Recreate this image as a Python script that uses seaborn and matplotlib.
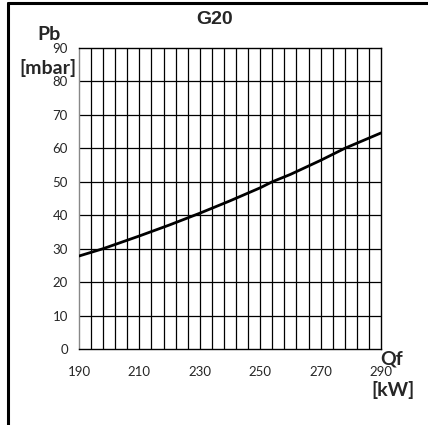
import numpy as np
import pandas as pd
import matplotlib
matplotlib.use("Agg")
import matplotlib.pyplot as plt
from matplotlib.lines import Line2D
import seaborn as sns

# Data
qf_kw = [190, 198, 210, 220, 230, 240, 250, 254, 260, 270, 278, 290]
pb_mbar = [27.8, 30.0, 33.8, 37.1, 40.6, 44.3, 48.2, 50.0, 52.2, 56.4, 60.0, 64.6]
x_ticks = [190, 210, 230, 250, 270, 290]
y_ticks = [0, 10, 20, 30, 40, 50, 60, 70, 80, 90]
title = "G20"
y_label = ["Pb", "[mbar]"]
x_label = ["Qf", "[kW]"]

sns.set_style("white")
plt.rcParams['font.family'] = ['Lato', 'DejaVu Sans']

fig = plt.figure(figsize=(4.28, 4.25), dpi=100)
ax = fig.add_axes([79/428, 1-349/425, (381-79)/428, (349-48)/425])

df = pd.DataFrame({"Qf": qf_kw, "Pb": pb_mbar})
sns.lineplot(data=df, x="Qf", y="Pb", ax=ax, color="black", linewidth=2.0, zorder=5)

ax.set_xlim(190, 290)
ax.set_ylim(0, 90)
ax.set_xticks(x_ticks)
ax.set_yticks(y_ticks)
ax.grid(False)
for xv in np.arange(194, 290, 4):
    ax.axvline(xv, color="black", lw=0.9, zorder=1)
for yv in y_ticks[1:-1]:
    ax.axhline(yv, color="black", lw=0.9, zorder=1)
ax.tick_params(axis="both", which="major", direction="out", length=3, width=0.8,
               color="black", labelsize=9.5)
ax.tick_params(axis="x", pad=9)
ax.tick_params(axis="y", pad=5)
for s in ax.spines.values():
    s.set_color("black")
    s.set_linewidth(1.0)
ax.spines["left"].set_color("#888888")
ax.set_xlabel("")
ax.set_ylabel("")

fig.text(214.5/428, 1-19/425, title, ha="center", va="center", fontsize=14,
         fontweight="bold", family=["Liberation Sans", "DejaVu Sans"])
fig.text(49/428, 1-34/425, y_label[0], ha="center", va="center", fontsize=14, fontweight="bold")
fig.text(48/428, 1-68/425, y_label[1], ha="center", va="center", fontsize=14, fontweight="bold")
fig.text(392/428, 1-359/425, x_label[0], ha="center", va="center", fontsize=14, fontweight="bold")
fig.text(393/428, 1-390/425, x_label[1], ha="center", va="center", fontsize=14, fontweight="bold")

# figure frame (top and left)
fig.add_artist(Line2D([8/428, 8/428], [0, 1-3/425], transform=fig.transFigure, color="black", lw=2.2))
fig.add_artist(Line2D([8/428, 1], [1-3/425, 1-3/425], transform=fig.transFigure, color="black", lw=2.2))

fig.savefig("out.png", dpi=100)
